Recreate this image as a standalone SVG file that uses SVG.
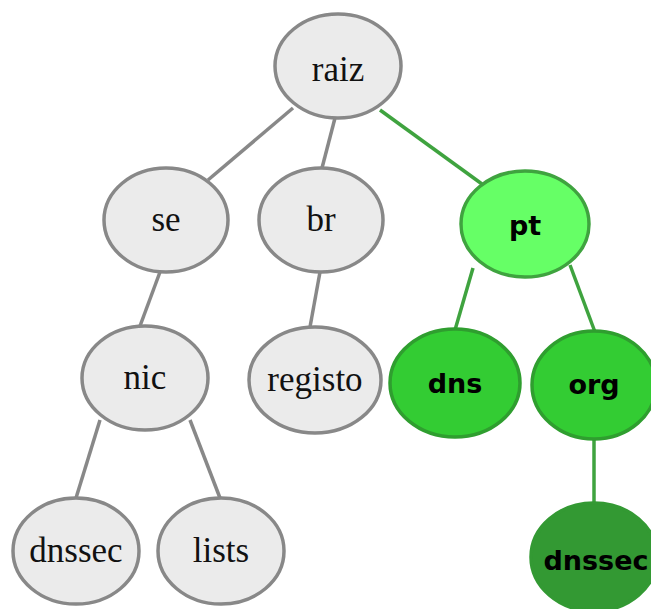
<svg xmlns="http://www.w3.org/2000/svg" width="651" height="609" viewBox="0 0 651 609">
  <style>
    .edge { stroke: #888888; stroke-width: 3.5; fill: none; }
    .edge.hot { stroke: #3fa33f; }
    .plain ellipse { fill: #ebebeb; stroke: #888888; stroke-width: 3.5; }
    .plain text { font-family: "Liberation Serif", "Times New Roman", serif; font-size: 35px; fill: #111; text-anchor: middle; }
    .lit ellipse { fill: #66ff66; stroke: #3fa33f; stroke-width: 3.5; }
    .mid ellipse { fill: #33cc33; stroke: #2f9e2f; stroke-width: 3.5; }
    .deep ellipse { fill: #339933; stroke: #339933; stroke-width: 3.5; }
    .lit text, .mid text, .deep text { font-family: "DejaVu Sans", Verdana, sans-serif; font-weight: bold; font-size: 27px; fill: #000; text-anchor: middle; }
  </style>
  <rect width="651" height="609" fill="#ffffff"/>

  <g id="connectors">
    <line class="edge" x1="293" y1="108" x2="208" y2="180"/>
    <line class="edge" x1="335" y1="118" x2="322" y2="168"/>
    <line class="edge hot" x1="380" y1="110" x2="482" y2="184"/>
    <line class="edge" x1="160" y1="272" x2="140" y2="326"/>
    <line class="edge" x1="320" y1="272" x2="310" y2="327"/>
    <line class="edge hot" x1="473" y1="268" x2="455" y2="330"/>
    <line class="edge hot" x1="570" y1="265" x2="595" y2="332"/>
    <line class="edge" x1="100" y1="420" x2="76" y2="498"/>
    <line class="edge" x1="190" y1="420" x2="220" y2="498"/>
    <line class="edge hot" x1="594" y1="438" x2="594" y2="503"/>
  </g>

  <g id="raiz" class="plain">
    <ellipse cx="338" cy="66" rx="63" ry="52"/>
    <text x="338" y="81">raiz</text>
  </g>
  <g id="se" class="plain">
    <ellipse cx="166" cy="220" rx="62" ry="52"/>
    <text x="166" y="231">se</text>
  </g>
  <g id="br" class="plain">
    <ellipse cx="321" cy="220" rx="62" ry="52"/>
    <text x="321" y="231">br</text>
  </g>
  <g id="pt" class="lit">
    <ellipse cx="525" cy="224" rx="64" ry="53"/>
    <text x="525" y="235">pt</text>
  </g>
  <g id="nic" class="plain">
    <ellipse cx="145" cy="378" rx="63" ry="52"/>
    <text x="145" y="389">nic</text>
  </g>
  <g id="registo" class="plain">
    <ellipse cx="315" cy="380" rx="66" ry="53"/>
    <text x="315" y="391">registo</text>
  </g>
  <g id="dns" class="mid">
    <ellipse cx="455" cy="383" rx="65" ry="54"/>
    <text x="455" y="393">dns</text>
  </g>
  <g id="org" class="mid">
    <ellipse cx="594" cy="385" rx="62" ry="54"/>
    <text x="594" y="394">org</text>
  </g>
  <g id="dnssec-se" class="plain">
    <ellipse cx="76" cy="551" rx="63" ry="53"/>
    <text x="76" y="562">dnssec</text>
  </g>
  <g id="lists" class="plain">
    <ellipse cx="221" cy="551" rx="63" ry="53"/>
    <text x="221" y="562">lists</text>
  </g>
  <g id="dnssec-pt" class="deep">
    <ellipse cx="594" cy="557" rx="63" ry="54"/>
    <text x="596" y="570">dnssec</text>
  </g>
</svg>
